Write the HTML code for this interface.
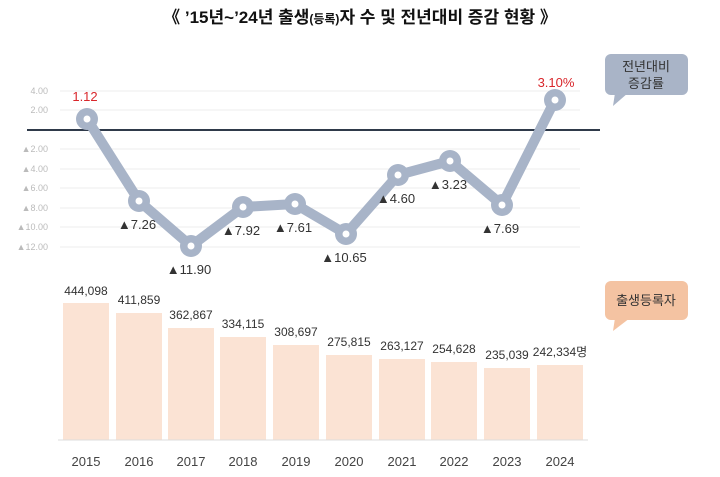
<!DOCTYPE html>
<html><head><meta charset="utf-8"><style>
body{margin:0;background:#fff}
svg{display:block;font-family:"Liberation Sans","Noto Sans CJK KR",sans-serif}
</style></head><body>
<svg width="720" height="477" viewBox="0 0 720 477">
<text x="360" y="23" text-anchor="middle" font-size="17" font-weight="bold" fill="#111">《 ’15년~’24년 출생<tspan font-size="12">(등록)</tspan>자 수 및 전년대비 증감 현황 》</text>
<g stroke="#eeeeee" stroke-width="1">
<line x1="60" x2="580" y1="91" y2="91"/><line x1="60" x2="580" y1="110" y2="110"/>
<line x1="60" x2="580" y1="149" y2="149"/><line x1="60" x2="580" y1="169" y2="169"/>
<line x1="60" x2="580" y1="188" y2="188"/><line x1="60" x2="580" y1="208" y2="208"/>
<line x1="60" x2="580" y1="227" y2="227"/><line x1="60" x2="580" y1="247" y2="247"/>
</g>
<g font-size="9" fill="#bbbbbb" text-anchor="end">
<text x="48" y="94">4.00</text><text x="48" y="113">2.00</text>
<text x="48" y="152">▲2.00</text><text x="48" y="172">▲4.00</text>
<text x="48" y="191">▲6.00</text><text x="48" y="211">▲8.00</text>
<text x="48" y="230">▲10.00</text><text x="48" y="250">▲12.00</text>
</g>
<line x1="27" x2="600" y1="130" y2="130" stroke="#2f3a4a" stroke-width="2"/>
<polyline points="87,119 139,201 191,246 243,207 295,204 346,234 398,175 450,161 502,205 555,100" fill="none" stroke="#a8b4c8" stroke-width="10" stroke-linejoin="round"/>
<g fill="#a8b4c8">
<circle cx="87" cy="119" r="11"/><circle cx="139" cy="201" r="11"/><circle cx="191" cy="246" r="11"/><circle cx="243" cy="207" r="11"/><circle cx="295" cy="204" r="11"/><circle cx="346" cy="234" r="11"/><circle cx="398" cy="175" r="11"/><circle cx="450" cy="161" r="11"/><circle cx="502" cy="205" r="11"/><circle cx="555" cy="100" r="11"/>
</g>
<g fill="#fff">
<circle cx="87" cy="119" r="3.5"/><circle cx="139" cy="201" r="3.5"/><circle cx="191" cy="246" r="3.5"/><circle cx="243" cy="207" r="3.5"/><circle cx="295" cy="204" r="3.5"/><circle cx="346" cy="234" r="3.5"/><circle cx="398" cy="175" r="3.5"/><circle cx="450" cy="161" r="3.5"/><circle cx="502" cy="205" r="3.5"/><circle cx="555" cy="100" r="3.5"/>
</g>
<g font-size="13" fill="#d9262b" text-anchor="middle">
<text x="85" y="101">1.12</text><text x="556" y="87">3.10%</text>
</g>
<g font-size="13" fill="#333" text-anchor="middle">
<text x="137" y="229">▲7.26</text><text x="189" y="274">▲11.90</text><text x="241" y="235">▲7.92</text><text x="293" y="232">▲7.61</text><text x="344" y="262">▲10.65</text><text x="396" y="203">▲4.60</text><text x="448" y="189">▲3.23</text><text x="500" y="233">▲7.69</text>
</g>
<g fill="#fbe3d4">
<rect x="63" y="303" width="46" height="137"/><rect x="116" y="313" width="46" height="127"/><rect x="168" y="328" width="46" height="112"/><rect x="220" y="337" width="46" height="103"/><rect x="273" y="345" width="46" height="95"/><rect x="326" y="355" width="46" height="85"/><rect x="379" y="359" width="46" height="81"/><rect x="431" y="362" width="46" height="78"/><rect x="484" y="368" width="46" height="72"/><rect x="537" y="365" width="46" height="75"/>
</g>
<line x1="58" x2="588" y1="440" y2="440" stroke="#dddddd"/>
<g font-size="12" fill="#333" text-anchor="middle">
<text x="86" y="295">444,098</text><text x="139" y="304">411,859</text><text x="191" y="319">362,867</text><text x="243" y="328">334,115</text><text x="296" y="336">308,697</text><text x="349" y="346">275,815</text><text x="402" y="350">263,127</text><text x="454" y="353">254,628</text><text x="507" y="359">235,039</text><text x="560" y="356">242,334명</text>
</g>
<g font-size="13" fill="#444" text-anchor="middle">
<text x="86" y="466">2015</text><text x="139" y="466">2016</text><text x="191" y="466">2017</text><text x="243" y="466">2018</text><text x="296" y="466">2019</text><text x="349" y="466">2020</text><text x="402" y="466">2021</text><text x="454" y="466">2022</text><text x="507" y="466">2023</text><text x="560" y="466">2024</text>
</g>
<rect x="605" y="54" width="83" height="41" rx="6" fill="#a9b4c7"/>
<polygon points="615,93 628,93 613,106" fill="#a9b4c7"/>
<text x="646" y="71" font-size="13" fill="#333" text-anchor="middle">전년대비</text>
<text x="646" y="88" font-size="13" fill="#333" text-anchor="middle">증감률</text>
<rect x="605" y="281" width="83" height="39" rx="6" fill="#f4c3a2"/>
<polygon points="615,318 630,318 613,331" fill="#f4c3a2"/>
<text x="646" y="305" font-size="13" fill="#333" text-anchor="middle">출생등록자</text>
</svg>
</body></html>
